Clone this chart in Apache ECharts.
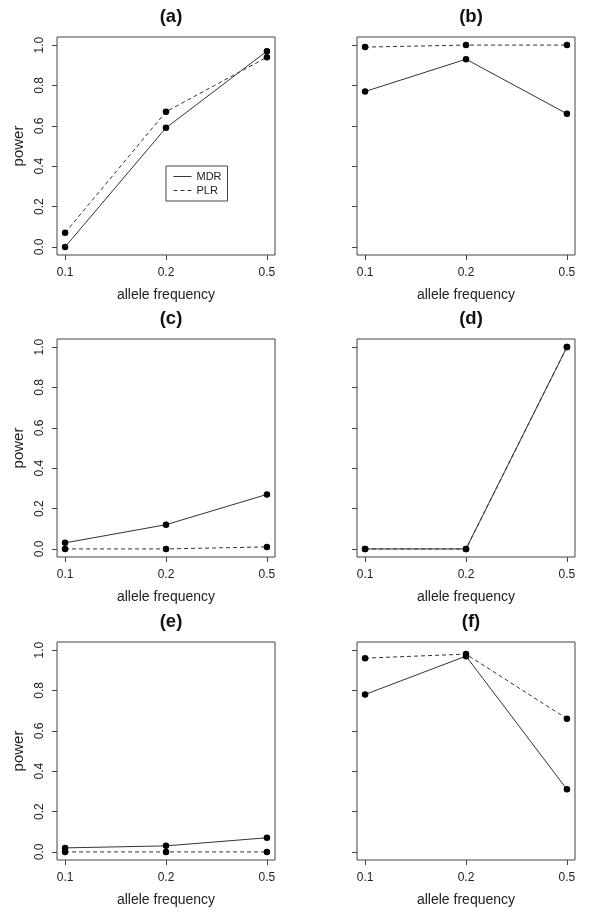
<!DOCTYPE html>
<html>
<head>
<meta charset="utf-8">
<script src="https://cdn.jsdelivr.net/npm/echarts@6/dist/echarts.min.js"></script>
<style>html,body{margin:0;padding:0;background:#fff}#c{width:600px;height:916px}</style>
</head>
<body>
<div id="c"></div>
<script>
// ---- data ----
const categories = ['0.1', '0.2', '0.5'];
const panelTitles = ['(a)', '(b)', '(c)', '(d)', '(e)', '(f)'];
const yTicks = [0, 0.2, 0.4, 0.6, 0.8, 1.0];
const yTickLabels = ['0.0', '0.2', '0.4', '0.6', '0.8', '1.0'];
const mdrA = [0.00, 0.59, 0.97];
const plrA = [0.07, 0.67, 0.94];
const mdrB = [0.77, 0.93, 0.66];
const plrB = [0.99, 1.00, 1.00];
const mdrC = [0.03, 0.12, 0.27];
const plrC = [0.00, 0.00, 0.01];
const mdrD = [0.00, 0.00, 1.00];
const plrD = [0.00, 0.00, 1.00];
const mdrE = [0.02, 0.03, 0.07];
const plrE = [0.00, 0.00, 0.00];
const mdrF = [0.78, 0.97, 0.31];
const plrF = [0.96, 0.98, 0.66];
const mdrAll = [mdrA, mdrB, mdrC, mdrD, mdrE, mdrF];
const plrAll = [plrA, plrB, plrC, plrD, plrE, plrF];

// ---- layout ----
const FONT = '"Liberation Sans", Arial, Helvetica, sans-serif';
const lefts = [57, 357];
const tops = [37, 339, 642];
const W = 218, H = 218;
const TXT = '#222';
const AX = '#444';

const grids = [], xAxes = [], yAxes = [], series = [], titles = [];
for (let i = 0; i < 6; i++) {
  const col = i % 2, row = Math.floor(i / 2);
  grids.push({
    left: lefts[col], top: tops[row], width: W, height: H,
    show: true, borderColor: AX, borderWidth: 1, backgroundColor: 'transparent'
  });
  titles.push({
    text: panelTitles[i], left: lefts[col] + W / 2, top: tops[row] - 35,
    textAlign: 'center',
    textStyle: { fontFamily: FONT, fontWeight: 'bold', fontSize: 18.5, color: '#111' }
  });
  xAxes.push({
    gridIndex: i, type: 'value', min: -0.08, max: 2.08,
    axisLine: { show: false, onZero: false },
    splitLine: { show: false },
    axisTick: { show: true, length: 5, customValues: [0, 1, 2], lineStyle: { color: AX } },
    axisLabel: {
      show: true, customValues: [0, 1, 2], margin: 12,
      formatter: v => categories[Math.round(v)],
      fontFamily: FONT, fontSize: 12, color: TXT
    },
    name: 'allele frequency', nameLocation: 'middle', nameGap: 33,
    nameTextStyle: { fontFamily: FONT, fontSize: 14, color: TXT }
  });
  yAxes.push({
    gridIndex: i, type: 'value', min: -0.04, max: 1.04,
    axisLine: { show: false, onZero: false },
    splitLine: { show: false },
    axisTick: { show: true, length: 5, customValues: yTicks, lineStyle: { color: AX } },
    axisLabel: {
      show: col === 0, customValues: yTicks, rotate: 90, margin: 11,
      formatter: v => yTickLabels[yTicks.findIndex(t => Math.abs(t - v) < 1e-6)],
      fontFamily: FONT, fontSize: 12, color: TXT
    },
    name: col === 0 ? 'power' : '', nameLocation: 'middle', nameGap: 31,
    nameTextStyle: { fontFamily: FONT, fontSize: 15, color: TXT }
  });
  series.push({
    name: 'PLR', type: 'line', xAxisIndex: i, yAxisIndex: i,
    data: plrAll[i].map((v, k) => [k, v]),
    symbol: 'circle', symbolSize: 6.5, color: '#000',
    lineStyle: { color: '#333', width: 1, type: [4, 3] },
    itemStyle: { color: '#000' }, animation: false, z: 2
  });
  series.push({
    name: 'MDR', type: 'line', xAxisIndex: i, yAxisIndex: i,
    data: mdrAll[i].map((v, k) => [k, v]),
    symbol: 'circle', symbolSize: 6.5, color: '#000',
    lineStyle: { color: '#333', width: 1, type: 'solid' },
    itemStyle: { color: '#000' }, animation: false, z: 3
  });
}

const chart = echarts.init(document.getElementById('c'), null, { renderer: 'canvas' });
chart.setOption({
  animation: false,
  backgroundColor: '#fff',
  title: titles,
  grid: grids,
  xAxis: xAxes,
  yAxis: yAxes,
  legend: {
    data: ['MDR', 'PLR'], orient: 'vertical',
    left: 166, top: 166, padding: [5, 6, 5, 7], itemGap: 3,
    itemWidth: 18, itemHeight: 8,
    borderColor: AX, borderWidth: 1, borderRadius: 0, backgroundColor: '#fff',
    itemStyle: { opacity: 0 },
    lineStyle: { width: 1, color: '#333' },
    selectedMode: false,
    textStyle: { fontFamily: FONT, fontSize: 11, color: TXT, padding: [0, 0, 0, 0] }
  },
  series: series
});
</script>
</body>
</html>
